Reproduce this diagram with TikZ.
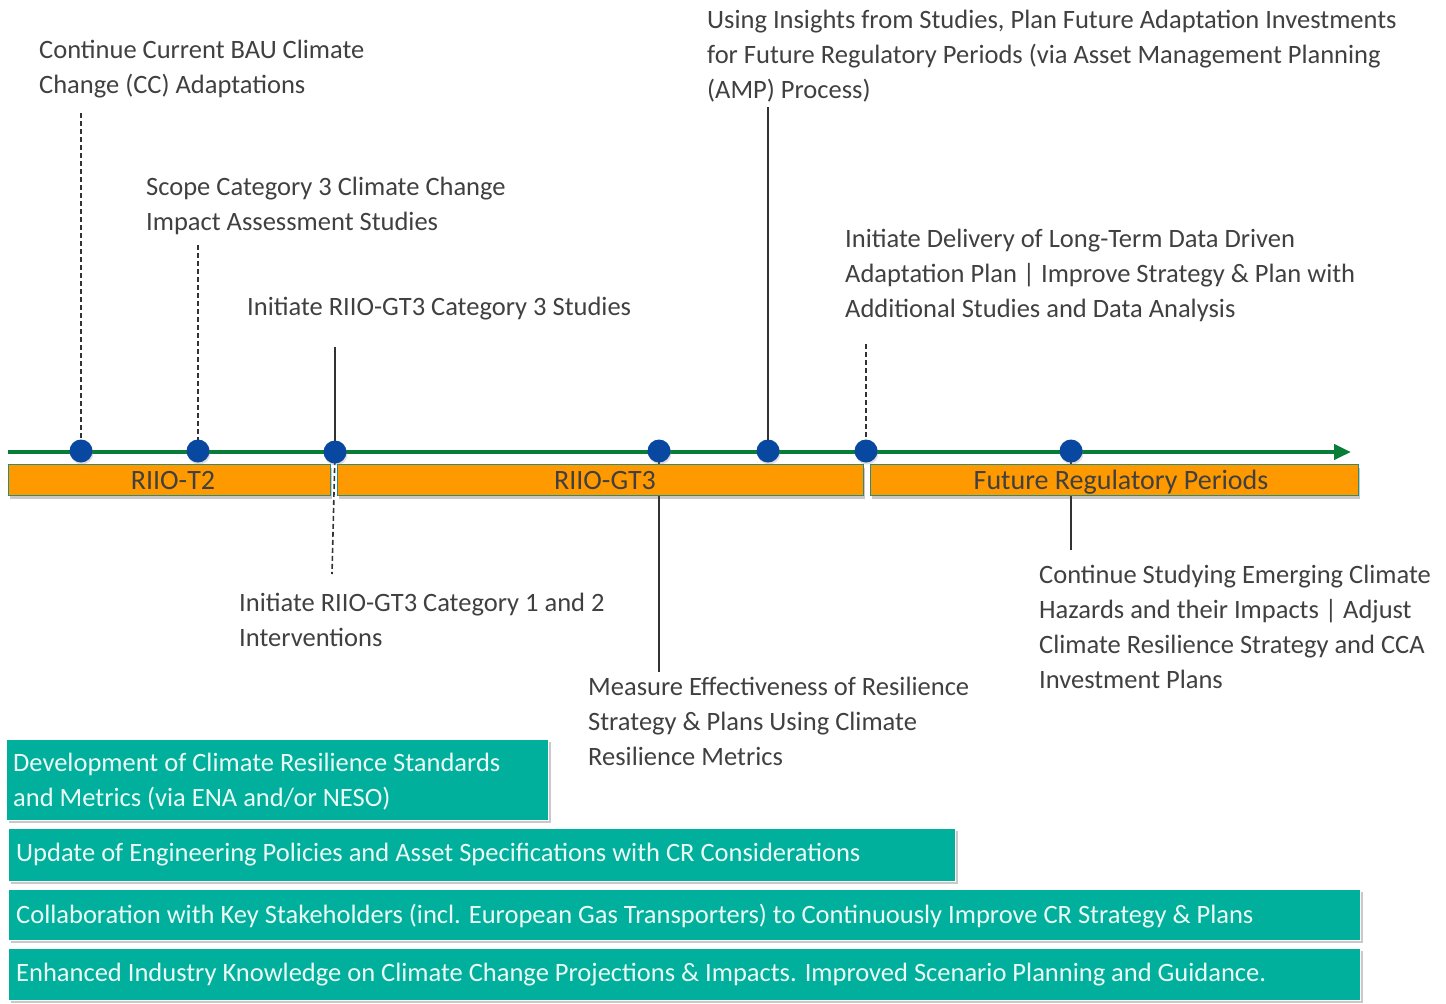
\documentclass[tikz,border=0pt]{standalone}
\usepackage{fontspec}
\setmainfont{Carlito}
\usetikzlibrary{arrows.meta,shadows}
\definecolor{lineGreen}{RGB}{8,125,55}
\definecolor{dotBlue}{RGB}{8,72,160}
\definecolor{barOrange}{RGB}{255,153,0}
\definecolor{barEdge}{RGB}{45,140,120}
\definecolor{teal}{RGB}{0,176,156}
\definecolor{barText}{RGB}{236,250,245}
\definecolor{labelText}{RGB}{64,64,64}
\definecolor{stemGray}{RGB}{50,50,50}
\tikzset{
  lbl/.style={anchor=north west, inner sep=0pt, align=left, text=labelText,
    font=\fontsize{26.5}{35}\selectfont},
  dot/.style={circle, fill=dotBlue, minimum size=23pt, inner sep=0pt},
  stem/.style={draw=stemGray, line width=1.6pt},
  dstem/.style={stem, dash pattern=on 5pt off 3pt},
  period/.style={draw=barEdge, line width=0.8pt, fill=barOrange,
    drop shadow={shadow xshift=2pt, shadow yshift=-4pt, opacity=0.3, fill=black!70}},
  periodtext/.style={text=labelText, font=\fontsize{28}{30}\selectfont},
  theme/.style={draw=white, line width=0.8pt, fill=teal,
    drop shadow={shadow xshift=3pt, shadow yshift=-3pt, opacity=0.3, fill=black!70}},
  themetext/.style={anchor=north west, inner sep=0pt, align=left, text=barText,
    font=\fontsize{26.5}{35}\selectfont},
}
\begin{document}
\begin{tikzpicture}[x=1pt, y=-1pt]
\useasboundingbox (0,0) rectangle (1446,1004);

% milestone points on the timeline
\coordinate (d1) at (81,451);
\coordinate (d2) at (198,451);
\coordinate (d3) at (335,452);
\coordinate (d4) at (659,451);
\coordinate (d5) at (768,451);
\coordinate (d6) at (866,451);
\coordinate (d7) at (1071,451);

% free ends of the stems
\coordinate (t1) at (81,113);
\coordinate (t2) at (198,245);
\coordinate (t3) at (335,347);
\coordinate (t3b) at (332,574);
\coordinate (t4) at (659,672);
\coordinate (t5) at (768,107);
\coordinate (t6) at (866,344);
\coordinate (t7) at (1071,550);

% stems
\draw[dstem] (t1) -- (d1);
\draw[dstem] (t2) -- (d2);
\draw[stem] (t3) -- (d3);
\draw[dstem] (d3) -- (t3b);
\draw[stem] (d4) -- (t4);
\draw[stem] (t5) -- (d5);
\draw[dstem] (t6) -- (d6);
\draw[stem] (d7) -- (t7);

% regulatory periods
\path[period] (8,464) rectangle (330,495);
\path[period] (337,464) rectangle (863,495);
\path[period] (870,464) rectangle (1358,495);
\node[periodtext] (p1) at (173,481) {RIIO-T2};
\node[periodtext] (p2) at (605,481) {RIIO-GT3};
\node[periodtext] (p3) at (1121,482) {Future Regulatory Periods};

% timeline arrow
\coordinate (ax0) at (8,452);
\coordinate (ax1) at (1351,452);
\draw[lineGreen, line width=4.5pt, -{Triangle[length=17pt,width=15pt]}] (ax0) -- (ax1);

% milestone dots
\foreach \d in {d1,d2,d3,d4,d5,d6,d7}
  \node[dot, drop shadow={shadow xshift=1pt, shadow yshift=-2pt, opacity=0.25}] at (\d) {};

% milestone labels
\node[lbl] (l1) at (39,40) {Continue Current BAU Climate\\Change (CC) Adaptations};
\node[lbl] (l2) at (146,177) {Scope Category 3 Climate Change\\Impact Assessment Studies};
\node[lbl] (l3) at (247,297) {Initiate RIIO-GT3 Category 3 Studies};
\node[lbl] (l3b) at (239,593) {Initiate RIIO-GT3 Category 1 and 2\\Interventions};
\node[lbl] (l4) at (588,677) {Measure Effectiveness of Resilience\\Strategy \& Plans Using Climate\\Resilience Metrics};
\node[lbl] (l5) at (707,10) {Using Insights from Studies, Plan Future Adaptation Investments\\for Future Regulatory Periods (via Asset Management Planning\\(AMP) Process)};
\node[lbl] (l6) at (845,229) {Initiate Delivery of Long-Term Data Driven\\Adaptation Plan | Improve Strategy \& Plan with\\Additional Studies and Data Analysis};
\node[lbl] (l7) at (1039,565) {Continue Studying Emerging Climate\\Hazards and their Impacts | Adjust\\Climate Resilience Strategy and CCA\\Investment Plans};

% enabling activities
\path[theme] (6,739) rectangle (548,820);
\node[themetext] (b1) at (13,753) {Development of Climate Resilience Standards\\and Metrics (via ENA and/or NESO)};
\path[theme] (8,828) rectangle (955,881);
\node[themetext] (b2) at (16,843) {Update of Engineering Policies and Asset Specifications with CR Considerations};
\path[theme] (8,889) rectangle (1360,940);
\node[themetext] (b3) at (16,904) {Collaboration with Key Stakeholders (incl. European Gas Transporters) to Continuously Improve CR Strategy \& Plans};
\path[theme] (8,948) rectangle (1360,1000);
\node[themetext] (b4) at (16,963) {Enhanced Industry Knowledge on Climate Change Projections \& Impacts. Improved Scenario Planning and Guidance.};
\end{tikzpicture}
\end{document}
